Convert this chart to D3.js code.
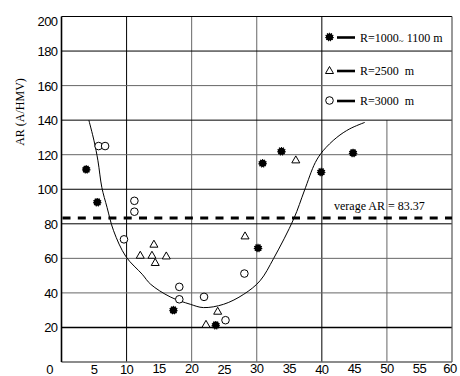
<!DOCTYPE html>
<html>
<head>
<meta charset="utf-8">
<script src="https://cdn.jsdelivr.net/npm/d3@7"></script>
<style>
  body { margin: 0; background: #fff; }
  svg { display: block; }
</style>
</head>
<body>
<svg id="chart" width="460" height="376"></svg>
<script>
// values: [x, AR]
const r1000 = [[3.8, 111.5], [5.5, 92.5], [17.2, 30], [23.7, 21.3], [30.2, 66], [30.9, 115], [33.8, 122], [39.9, 110], [44.8, 121]];
const r2500 = [[12.1, 61.8], [13.9, 61.8], [14.2, 68.2], [14.4, 57.6], [16.1, 61.4], [22.2, 21.8], [24.0, 29.4], [28.2, 73], [36.0, 117]];
const r3000 = [[5.7, 125], [6.7, 125], [9.6, 71], [11.2, 93.3], [11.2, 87], [18.1, 43.5], [18.1, 36.3], [21.9, 37.7], [25.2, 24.2], [28.1, 51.2]];
const fitCurve = [[4.2, 140], [5.0, 128], [5.6, 116.5], [6.2, 101], [7.0, 89.5], [8.0, 76], [9.9, 61], [12.4, 50.8], [13.7, 45],
  [16.7, 37.7], [19.8, 33.4], [21.8, 31.5], [24.9, 33.4], [28, 39.2], [30.5, 47], [32.6, 60], [35.7, 83], [37.3, 99],
  [39, 115.5], [40.2, 122.3], [42.3, 130], [44.3, 135], [46.6, 138.7]];
const averageAR = 83.37;
const xTicks = [5, 10, 15, 20, 25, 30, 35, 40, 45, 50, 55, 60];
const yTicks = [0, 20, 40, 60, 80, 100, 120, 140, 160, 180, 200];
const xGrid = [10, 20, 30, 40, 50];
const yGrid = [20, 40, 60, 80, 100, 120, 140, 160, 180];
const legendItems = ['R=1000', 'R=2500  m', 'R=3000  m'];

const svg = d3.select('#chart');
const x = d3.scaleLinear().domain([0, 60]).range([61.5, 452]);
const y = d3.scaleLinear().domain([0, 200]).range([362, 16.5]);

const darkV = [10, 40];
const darkH = [20, 80, 100, 140, 180];

// vertical grid (the x=50 line stops under the legend)
svg.selectAll('.vgrid')
  .data(xGrid)
  .enter().append('line')
  .attr('x1', d => x(d)).attr('x2', d => x(d))
  .attr('y1', d => d === 50 ? y(140) : y(200))
  .attr('y2', y(0))
  .attr('stroke', d => darkV.includes(d) ? '#000' : '#666')
  .attr('stroke-width', 1);

svg.selectAll('.hgrid')
  .data(yGrid)
  .enter().append('line')
  .attr('x1', x(0)).attr('x2', x(60))
  .attr('y1', d => y(d)).attr('y2', d => y(d))
  .attr('stroke', d => darkH.includes(d) ? '#000' : '#666')
  .attr('stroke-width', d => d === 20 ? 1.6 : 1);

// frame
svg.append('line').attr('x1', x(0)).attr('x2', x(60)).attr('y1', y(200)).attr('y2', y(200)).attr('stroke', '#000').attr('stroke-width', 1.2);
svg.append('line').attr('x1', x(60)).attr('x2', x(60)).attr('y1', y(200)).attr('y2', y(0)).attr('stroke', '#555').attr('stroke-width', 1.2);
svg.append('line').attr('x1', x(0)).attr('x2', x(60)).attr('y1', y(0)).attr('y2', y(0)).attr('stroke', '#666').attr('stroke-width', 1.6);
svg.append('line').attr('x1', x(0)).attr('x2', x(0)).attr('y1', y(200)).attr('y2', y(0)).attr('stroke', '#000').attr('stroke-width', 1.6);

// average line
svg.append('line')
  .attr('x1', x(0) + 1).attr('x2', x(60))
  .attr('y1', y(averageAR)).attr('y2', y(averageAR))
  .attr('stroke', '#000').attr('stroke-width', 3)
  .attr('stroke-dasharray', '8,7.3');

svg.append('text')
  .attr('x', 334).attr('y', y(averageAR) - 8)
  .attr('font-family', 'Liberation Serif')
  .attr('font-size', 12)
  .text('verage AR = ' + averageAR);

// fitted curve
const line = d3.line().curve(d3.curveCatmullRom.alpha(0.5)).x(d => x(d[0])).y(d => y(d[1]));
svg.append('path')
  .datum(fitCurve)
  .attr('d', line)
  .attr('fill', 'none')
  .attr('stroke', '#000')
  .attr('stroke-width', 1);

// markers
const triangle = 'M0,-4 L4,3 L-4,3 Z';
function dot(sel) {
  sel.attr('r', 3.6).attr('fill', '#000').attr('stroke', '#000').attr('stroke-width', 1.4).attr('stroke-dasharray', '1,1');
}
function ring(sel) {
  sel.attr('r', 3.8).attr('fill', '#fff').attr('stroke', '#000').attr('stroke-width', 1);
}
function tri(sel) {
  sel.attr('d', triangle).attr('fill', '#fff').attr('stroke', '#000').attr('stroke-width', 1);
}

svg.selectAll('.r3000').data(r3000).enter().append('circle')
  .attr('cx', d => x(d[0])).attr('cy', d => y(d[1])).call(ring);
svg.selectAll('.r2500').data(r2500).enter().append('path')
  .attr('transform', d => `translate(${x(d[0])},${y(d[1])})`).call(tri);
svg.selectAll('.r1000').data(r1000).enter().append('circle')
  .attr('cx', d => x(d[0])).attr('cy', d => y(d[1])).call(dot);

// legend
const legendY = [37, 70.5, 100.5];
const lx = 329.5;
svg.append('circle').attr('cx', lx).attr('cy', legendY[0]).call(dot);
svg.append('path').attr('transform', `translate(${lx},${legendY[1]})`).call(tri);
svg.append('circle').attr('cx', lx).attr('cy', legendY[2]).call(ring);
svg.selectAll('.lline').data(legendY).enter().append('line')
  .attr('x1', 337).attr('x2', 355)
  .attr('y1', d => d + 0.5).attr('y2', d => d + 0.5)
  .attr('stroke', '#000').attr('stroke-width', 2.6);

const lt = svg.selectAll('.ltext').data(legendItems).enter().append('text')
  .attr('x', 360).attr('y', (d, i) => legendY[i] + 4.5)
  .attr('font-family', 'Liberation Serif')
  .attr('font-size', 12)
  .style('white-space', 'pre')
  .text(d => d);
lt.filter((d, i) => i === 0).append('tspan').attr('dy', 2).attr('font-size', 9).text('~');
lt.filter((d, i) => i === 0).append('tspan').attr('dy', -2).text(' 1100 m');

// tick labels
svg.selectAll('.ylab').data(yTicks).enter().append('text')
  .attr('x', d => d === 0 ? 53 : 57.5)
  .attr('y', d => d === 200 ? 26 : d === 0 ? 373.5 : y(d) + 5)
  .attr('text-anchor', 'end')
  .attr('font-family', 'Liberation Sans')
  .attr('font-size', 13)
  .attr('letter-spacing', -0.6)
  .text(d => d);

svg.selectAll('.xlab').data(xTicks).enter().append('text')
  .attr('x', d => d === 60 ? x(d) - 2 : x(d))
  .attr('y', d => [5, 10, 25, 40].includes(d) ? 373.5 : 372.5)
  .attr('text-anchor', 'middle')
  .attr('font-family', 'Liberation Sans')
  .attr('font-size', 13)
  .attr('letter-spacing', -0.6)
  .text(d => d);

svg.append('text')
  .attr('transform', 'translate(23.5,112) rotate(-90)')
  .attr('text-anchor', 'middle')
  .attr('font-family', 'Liberation Serif')
  .attr('font-size', 12)
  .text('AR (A/HMV)');
</script>
</body>
</html>
